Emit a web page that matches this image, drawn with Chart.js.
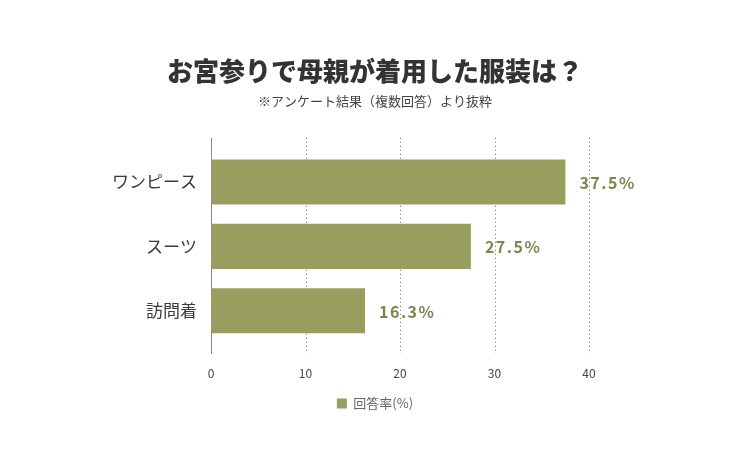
<!DOCTYPE html>
<html>
<head>
<meta charset="utf-8">
<script src="https://cdn.jsdelivr.net/npm/chart.js@4"></script>
<style>
  html, body { margin: 0; padding: 0; background: #fff; }
  #wrap { width: 750px; height: 450px; }
</style>
</head>
<body>
<div id="wrap"><canvas id="chart" width="750" height="450"></canvas></div>
<script>
const categories = ["ワンピース", "スーツ", "訪問着"];
const rates = [37.5, 27.5, 16.3];
const xTicks = [0, 10, 20, 30, 40];
const titleText = "お宮参りで母親が着用した服装は？";
const subtitleText = "※アンケート結果（複数回答）より抜粋";
const seriesName = "回答率(%)";

const FONT = "'Noto Sans CJK JP', 'Noto Sans', sans-serif";
const barColor = "#989f5e";

// 縦の点線と左の軸線（チャート領域より少し長めに引く）
const gridPlugin = {
  id: "dotGrid",
  beforeDatasetsDraw(chart) {
    const { ctx, chartArea, scales } = chart;
    const top = chartArea.top - 12;
    const bottom = chartArea.bottom + 11;
    ctx.save();
    ctx.strokeStyle = "#666";
    ctx.lineWidth = 1;
    ctx.setLineDash([1, 3]);
    xTicks.slice(1).forEach((v) => {
      const x = Math.round(scales.x.getPixelForValue(v)) + 0.5;
      ctx.beginPath();
      ctx.moveTo(x, top);
      ctx.lineTo(x, bottom);
      ctx.stroke();
    });
    ctx.setLineDash([]);
    ctx.strokeStyle = "#8a8a8a";
    const x0 = Math.round(scales.x.getPixelForValue(0)) + 0.5;
    ctx.beginPath();
    ctx.moveTo(x0, top);
    ctx.lineTo(x0, bottom);
    ctx.stroke();
    ctx.restore();
  },
};

// バーの右に値ラベル
const valueLabels = {
  id: "valueLabels",
  afterDatasetsDraw(chart) {
    const { ctx } = chart;
    const meta = chart.getDatasetMeta(0);
    ctx.save();
    ctx.font = "bold 16px " + FONT;
    ctx.fillStyle = "#80844f";
    ctx.textAlign = "left";
    ctx.textBaseline = "middle";
    if ("letterSpacing" in ctx) ctx.letterSpacing = "1.5px";
    meta.data.forEach((bar, i) => {
      ctx.fillText(rates[i].toFixed(1) + "%", bar.x + 14, bar.y + 1);
    });
    ctx.restore();
  },
};

new Chart(document.getElementById("chart"), {
  type: "bar",
  data: {
    labels: categories,
    datasets: [
      {
        label: seriesName,
        data: rates,
        backgroundColor: barColor,
        borderWidth: 0,
        barPercentage: 0.7,
        categoryPercentage: 1.0,
        yAxisID: "y",
      },
    ],
  },
  options: {
    indexAxis: "y",
    responsive: false,
    animation: false,
    layout: { padding: { left: 0, right: 0, top: 0, bottom: 30 } },
    scales: {
      x: {
        min: 0,
        max: 40,
        afterBuildTicks: (scale) => {
          scale.ticks = xTicks.map((v) => ({ value: v }));
        },
        afterFit: (scale) => {
          scale.height = 44;
        },
        grid: { display: false, drawTicks: false },
        border: { display: false },
        ticks: {
          color: "#444",
          font: { family: FONT, size: 12 },
          padding: 23,
        },
      },
      y: {
        grid: { display: false, drawTicks: false },
        border: { display: false },
        afterFit: (scale) => {
          scale.width = 211;
        },
        ticks: {
          color: "#3a3a3a",
          font: { family: FONT, size: 17 },
          padding: 14,
        },
      },
      // 右側の余白用（表示なし）
      yRight: {
        position: "right",
        grid: { display: false, drawTicks: false },
        border: { display: false },
        ticks: { display: false },
        afterFit: (scale) => {
          scale.width = 161;
        },
      },
    },
    plugins: {
      title: {
        display: true,
        text: titleText,
        color: "#333",
        font: { family: FONT, size: 26, weight: "900" },
        padding: { top: 56, bottom: 6 },
      },
      subtitle: {
        display: true,
        text: subtitleText,
        color: "#444",
        font: { family: FONT, size: 13 },
        padding: { top: 0, bottom: 41 },
      },
      legend: {
        position: "bottom",
        labels: {
          color: "#666",
          boxWidth: 10,
          boxHeight: 10,
          font: { family: FONT, size: 13 },
          padding: 10,
        },
      },
      tooltip: { enabled: false },
    },
  },
  plugins: [gridPlugin, valueLabels],
});
</script>
</body>
</html>
